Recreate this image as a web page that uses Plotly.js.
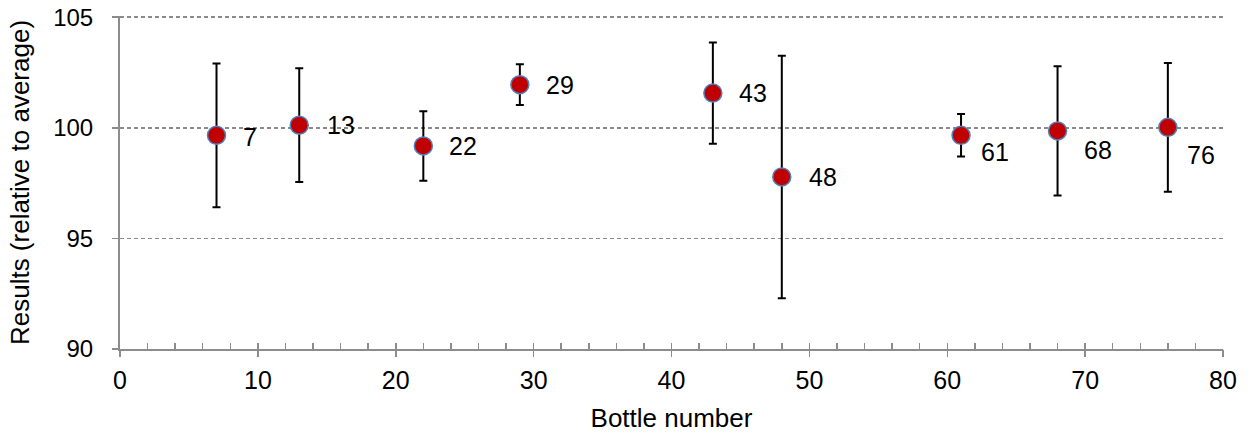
<!DOCTYPE html>
<html>
<head>
<meta charset="utf-8">
<script src="https://cdn.plot.ly/plotly-3.0.1.min.js"></script>
<style>
html,body{margin:0;padding:0;background:#fff;}
#chart{width:1258px;height:437px;}
</style>
</head>
<body>
<div id="chart"></div>
<script>
// Data
const bottles = [7, 13, 22, 29, 43, 48, 61, 68, 76];
const results = [99.66, 100.12, 99.18, 101.95, 101.57, 97.78, 99.66, 99.86, 100.02];
const uncertainty = [3.25, 2.57, 1.57, 0.92, 2.29, 5.48, 0.96, 2.92, 2.91];
const xTickVals = [0, 10, 20, 30, 40, 50, 60, 70, 80];
const yTickVals = [90, 95, 100, 105];

// Label placement styles (pixel offsets from each marker)
const labelDx = [26, 28, 26, 26, 26, 27, 20, 26, 19];
const labelDy = [-2, 0, 0, 0, 0, 0, -17, -19, -28];

const FONT = "Liberation Sans, Arial, sans-serif";
const AXIS_GRAY = "#8c8c8c";

const traces = [
  {
    x: bottles,
    y: results,
    type: "scatter",
    mode: "markers",
    marker: {size: 18, color: "#C00000", line: {color: "#4F81BD", width: 1.5}},
    error_y: {type: "data", array: uncertainty, visible: true, color: "#000000", thickness: 2, width: 4},
    hoverinfo: "x+y",
    showlegend: false
  },
  {
    x: [xTickVals[0], xTickVals[xTickVals.length - 1]],
    y: [yTickVals[0], yTickVals[0]],
    xaxis: "x2",
    type: "scatter",
    mode: "markers",
    marker: {opacity: 0},
    hoverinfo: "skip",
    showlegend: false
  }
];

const annotations = bottles.map((b, i) => ({
  x: b, y: results[i], xref: "x", yref: "y",
  text: String(b), showarrow: false,
  xanchor: "left", yanchor: "middle",
  xshift: labelDx[i] - 2, yshift: labelDy[i],
  font: {family: FONT, size: 25, color: "#000"}
}));

const layout = {
  width: 1258, height: 437,
  margin: {l: 119.5, r: 35, t: 15.5, b: 87.7},
  paper_bgcolor: "#fff", plot_bgcolor: "#fff",
  font: {family: FONT, size: 24, color: "#000"},
  xaxis: {
    range: [0, 80],
    tickvals: xTickVals,
    ticks: "inside", ticklen: 6, tickwidth: 1.5, tickcolor: AXIS_GRAY,
    minor: {dtick: 2, ticks: "inside", ticklen: 6, tickwidth: 1.5, tickcolor: AXIS_GRAY, showgrid: false},
    showline: true, linecolor: AXIS_GRAY, linewidth: 2,
    showgrid: false, zeroline: false,
    ticklabelstandoff: 8,
    tickfont: {family: FONT, size: 25, color: "#000"},
    title: {text: "Bottle number", font: {family: FONT, size: 26, color: "#000"}, standoff: 16},
    fixedrange: true
  },
  xaxis2: {
    overlaying: "x", anchor: "y", side: "bottom",
    range: [0, 80],
    tickvals: xTickVals,
    ticks: "outside", ticklen: 7, tickwidth: 1.5, tickcolor: AXIS_GRAY,
    showticklabels: false, showline: false, showgrid: false, zeroline: false,
    fixedrange: true
  },
  yaxis: {
    range: [90, 105.055],
    tickvals: yTickVals,
    ticks: "outside", ticklen: 6, tickwidth: 1.5, tickcolor: AXIS_GRAY,
    showline: true, linecolor: AXIS_GRAY, linewidth: 2,
    showgrid: true, gridcolor: "#8a8a8a", griddash: "4px,3px", gridwidth: 1.5,
    zeroline: false,
    ticklabelstandoff: 14,
    tickfont: {family: FONT, size: 24, color: "#000"},
    title: {text: "Results (relative to average)", font: {family: FONT, size: 26, color: "#000"}, standoff: 16},
    fixedrange: true
  },
  annotations: annotations
};

Plotly.newPlot("chart", traces, layout, {displayModeBar: false, staticPlot: true});
</script>
</body>
</html>
